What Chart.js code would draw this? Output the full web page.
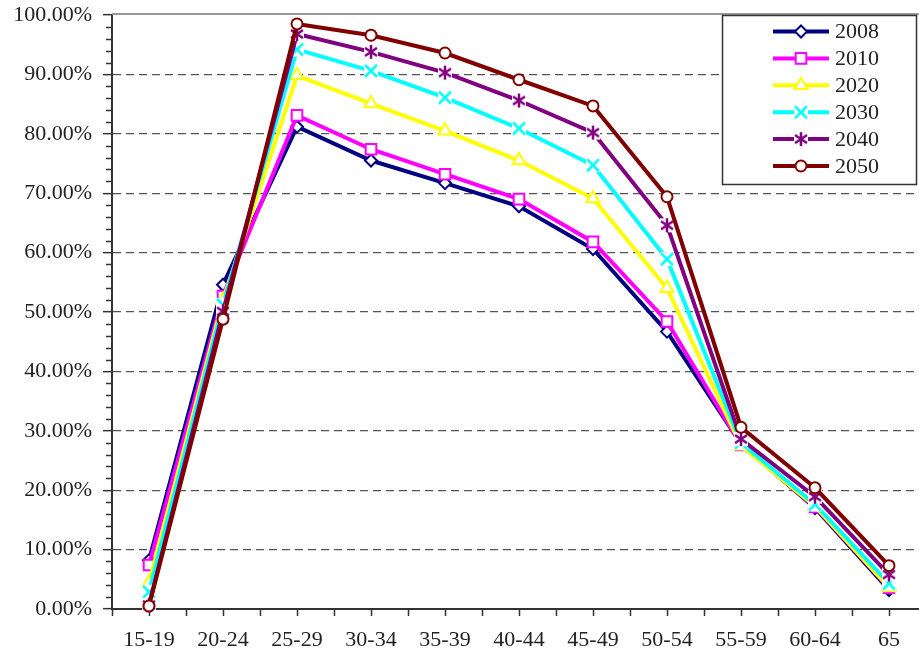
<!DOCTYPE html>
<html lang="zh-Hant">
<head>
<meta charset="utf-8">
<title>勞動參與率</title>
<script src="https://cdn.jsdelivr.net/npm/chart.js@4.4.1/dist/chart.umd.min.js"></script>
<style>
html, body { margin: 0; padding: 0; background: #fff; overflow: hidden; }
canvas { display: block; }
</style>
</head>
<body>
<canvas id="grafico" width="936" height="654"></canvas>
<script>
// Grupos de edad y tasas (%) por año
const grupos = ['15-19', '20-24', '25-29', '30-34', '35-39', '40-44', '45-49', '50-54', '55-59', '60-64', '65'];
const anios = ['2008', '2010', '2020', '2030', '2040', '2050'];
const serie2008 = [8.2, 54.6, 81.2, 75.5, 71.7, 67.8, 60.6, 46.7, 27.8, 17.0, 3.2];
const serie2010 = [7.4, 52.7, 83.1, 77.4, 73.2, 69.0, 61.8, 48.4, 27.6, 17.2, 3.6];
const serie2020 = [4.4, 52.0, 89.8, 85.1, 80.5, 75.5, 69.1, 54.0, 27.5, 17.3, 3.6];
const serie2030 = [2.9, 51.2, 94.2, 90.6, 86.1, 80.9, 74.7, 58.9, 28.0, 17.6, 4.3];
const serie2040 = [0.7, 50.1, 96.8, 93.8, 90.3, 85.6, 80.2, 64.6, 28.6, 18.9, 5.8];
const serie2050 = [0.5, 48.8, 98.5, 96.6, 93.6, 89.1, 84.7, 69.4, 30.6, 20.4, 7.3];
const series = [serie2008, serie2010, serie2020, serie2030, serie2040, serie2050];

const maxY = 100;
const pasoY = 10;
const fuente = "'Liberation Serif', 'Times New Roman', serif";
const colores = ['#000080', '#ff00ff', '#ffff00', '#00ffff', '#800080', '#800000'];

// Marcadores X y asterisco con fondo blanco
function marcaCanvas(color, tipo) {
    const c = document.createElement('canvas');
    c.width = 16;
    c.height = 16;
    const g = c.getContext('2d');
    g.fillStyle = '#fff';
    g.fillRect(1, 1, 14, 14);
    g.strokeStyle = color;
    g.lineWidth = 2.5;
    g.beginPath();
    if (tipo === 'asterisco') {
        g.moveTo(8, 1); g.lineTo(8, 15);
        g.moveTo(2, 4); g.lineTo(14, 12);
        g.moveTo(14, 4); g.lineTo(2, 12);
    } else {
        g.moveTo(2, 2); g.lineTo(14, 14);
        g.moveTo(14, 2); g.lineTo(2, 14);
    }
    g.stroke();
    return c;
}

const marcadores = [
    { estilo: 'rectRot', radio: 6 },
    { estilo: 'rect', radio: 7.5 },
    { estilo: 'triangle', radio: 7.5 },
    { estilo: marcaCanvas(colores[3], 'x'), radio: 8 },
    { estilo: marcaCanvas(colores[4], 'asterisco'), radio: 8 },
    { estilo: 'circle', radio: 5.5 }
];

const datasets = series.map((datos, i) => ({
    label: anios[i],
    data: datos,
    borderColor: colores[i],
    backgroundColor: colores[i],
    borderWidth: 4,
    pointStyle: marcadores[i].estilo,
    pointRadius: marcadores[i].radio,
    pointHoverRadius: marcadores[i].radio,
    pointBorderWidth: 2,
    pointBackgroundColor: '#fff',
    pointBorderColor: colores[i],
    tension: 0,
    clip: false,
    order: series.length - i
}));

// Sin relleno extra de etiquetas: el área queda fija
function sinRelleno(s) {
    s.paddingTop = 0;
    s.paddingBottom = 0;
    s.paddingLeft = 0;
    s.paddingRight = 0;
}

// Marcas menores, borde superior y leyenda dentro del gráfico
const decoracion = {
    id: 'decoracion',
    beforeDatasetsDraw(chart) {
        const ctx = chart.ctx;
        const area = chart.chartArea;
        const ys = chart.scales.y;
        const xs = chart.scales.x;
        ctx.save();
        ctx.strokeStyle = '#333';
        ctx.lineWidth = 1.5;
        ctx.beginPath();
        for (let v = 2; v < maxY; v += 2) {
            if (v % pasoY === 0) continue;
            const y = Math.round(ys.getPixelForValue(v)) + 0.5;
            ctx.moveTo(area.left - 6, y);
            ctx.lineTo(area.left, y);
        }
        grupos.forEach((_, i) => {
            const x = Math.round(xs.getPixelForValue(i)) + 0.5;
            ctx.moveTo(x, area.bottom);
            ctx.lineTo(x, area.bottom + 7);
        });
        ctx.stroke();
        ctx.strokeStyle = '#999';
        ctx.lineWidth = 2;
        ctx.beginPath();
        ctx.moveTo(area.left, area.top - 1);
        ctx.lineTo(chart.width, area.top - 1);
        ctx.stroke();
        ctx.restore();
    },
    afterDraw(chart) {
        const ctx = chart.ctx;
        ctx.save();
        ctx.fillStyle = '#fff';
        ctx.fillRect(722, 15, 195, 170);
        ctx.strokeStyle = '#333';
        ctx.lineWidth = 1.5;
        ctx.strokeRect(722.5, 15.5, 194, 169);
        anios.forEach((anio, i) => {
            const y = 31.5 + i * 26.9;
            ctx.strokeStyle = colores[i];
            ctx.lineWidth = 4;
            ctx.beginPath();
            ctx.moveTo(773, y);
            ctx.lineTo(829, y);
            ctx.stroke();
            ctx.fillStyle = '#fff';
            ctx.strokeStyle = colores[i];
            ctx.lineWidth = 2;
            Chart.helpers.drawPoint(ctx, {
                pointStyle: marcadores[i].estilo,
                radius: marcadores[i].radio,
                borderWidth: 2,
                rotation: 0
            }, 801, y);
            ctx.fillStyle = '#222';
            ctx.font = '22px ' + fuente;
            ctx.textAlign = 'left';
            ctx.textBaseline = 'middle';
            ctx.fillText(anio, 835, y + 1);
        });
        ctx.restore();
    }
};

const grafico = new Chart(document.getElementById('grafico').getContext('2d'), {
    type: 'line',
    data: {
        labels: grupos,
        datasets: datasets
    },
    options: {
        responsive: false,
        animation: false,
        events: [],
        layout: {
            padding: { top: 15, right: -7, left: 0, bottom: 0 }
        },
        plugins: {
            legend: { display: false },
            tooltip: { enabled: false }
        },
        scales: {
            x: {
                offset: true,
                afterFit: s => { s.height = 45; sinRelleno(s); },
                grid: {
                    offset: true,
                    color: 'transparent',
                    tickColor: '#333',
                    tickWidth: 1.5,
                    tickLength: 7
                },
                border: { color: '#333', width: 2 },
                ticks: {
                    color: '#222',
                    padding: 11,
                    maxRotation: 0,
                    autoSkip: false,
                    font: { family: fuente, size: 22 }
                }
            },
            y: {
                min: 0,
                max: maxY,
                afterFit: s => { s.width = 112; sinRelleno(s); },
                grid: {
                    color: c => (c.tick && c.tick.value > 0 && c.tick.value < maxY) ? '#555' : 'transparent',
                    lineWidth: 1.3,
                    tickColor: '#333',
                    tickWidth: 1.5,
                    tickLength: 9
                },
                border: { color: '#333', width: 2, dash: [8, 5] },
                ticks: {
                    stepSize: pasoY,
                    color: '#222',
                    padding: 11,
                    font: { family: fuente, size: 22 },
                    callback: v => v.toFixed(2) + '%'
                }
            }
        }
    },
    plugins: [decoracion]
});
</script>
</body>
</html>
